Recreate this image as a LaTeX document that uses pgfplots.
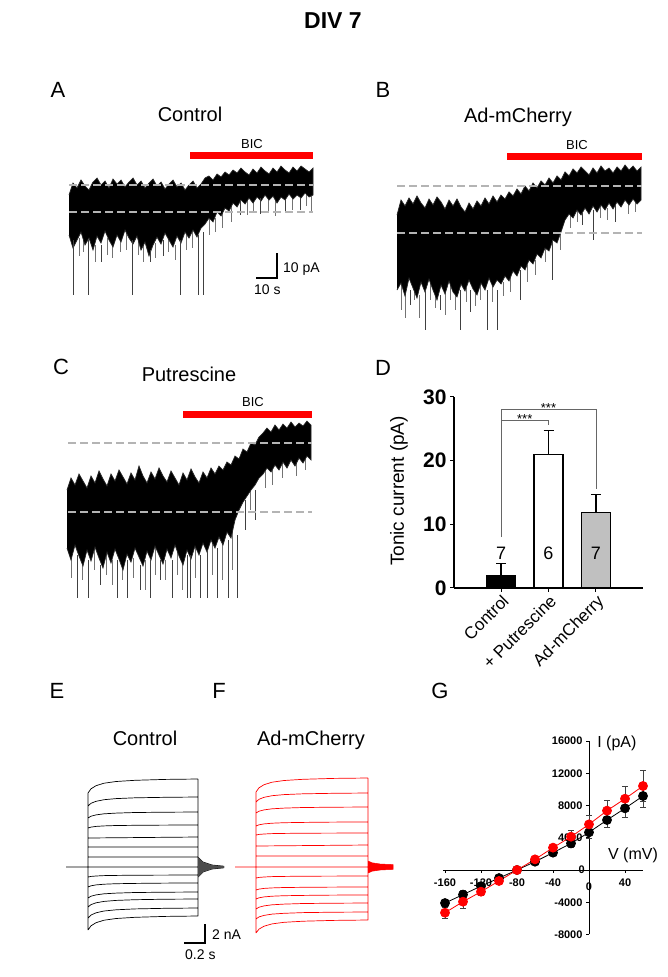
\documentclass[border=0pt]{standalone}
\usepackage{fontspec}
\setmainfont{Liberation Sans}
\usepackage{pgfplots}
\pgfplotsset{compat=1.18}
\definecolor{dashgray}{HTML}{B4B4B4}
\definecolor{bargray}{HTML}{C0C0C0}
\begin{document}
\begin{tikzpicture}
\useasboundingbox (0pt,0pt) rectangle (667pt,977pt);
% ---------------- canvas for traces (pixel coordinates) ----------------
\begin{axis}[at={(0pt,0pt)}, anchor=south west, scale only axis, width=667pt, height=977pt,
  xmin=0, xmax=667, ymin=0, ymax=977, y dir=reverse, hide axis, clip=false, unbounded coords=jump]
% ---- Panel A trace
\addplot[black!55, line width=0.4pt] coordinates {
(79,238)(79,256)(79,nan)(83,240)(83,252)(83,nan)(95,245)(95,262)(95,nan)(107,238)(107,255)(107,nan)
(112,245)(112,258)(112,nan)(120,240)(120,252)(120,nan)(126,232)(126,250)(126,nan)(138,238)(138,255)(138,nan)
(143,245)(143,262)(143,nan)(155,243)(155,258)(155,nan)(168,238)(168,252)(168,nan)(175,245)(175,260)(175,nan)
(186,235)(186,250)(186,nan)(192,232)(192,248)(192,nan)(209,215)(209,235)(209,nan)(215,218)(215,232)(215,nan)
(222,212)(222,228)(222,nan)(231,205)(231,222)(231,nan)(247,200)(247,215)(247,nan)(253,200)(253,213)(253,nan)
(268,198)(268,212)(268,nan)(275,200)(275,216)(275,nan)(292,196)(292,210)(292,nan)(306,194)(306,206)(306,nan)(311,195)(311,212)};
\addplot[fill=black, draw=black!85, line width=0.7pt] coordinates {
(69,195)(73,183)(77,188)(81,180)(85,186)(89,190)(93,182)(97,178)(101,185)(105,181)(109,188)(113,179)(117,184)(121,180)(125,187)(129,182)(133,178)(137,185)(141,181)(145,188)(149,183)(153,179)(157,186)(161,182)(165,189)(169,184)(173,180)(177,187)(181,183)(185,190)(189,185)(193,181)(197,188)(201,184)(205,178)(209,176)(213,180)(217,174)(221,177)(225,172)(229,175)(233,170)(237,173)(241,168)(245,172)(249,175)(253,169)(257,173)(261,167)(265,171)(269,174)(273,168)(277,172)(281,166)(285,170)(289,173)(293,167)(297,171)(301,166)(305,169)(309,172)(313,168)
(313,195)(309,197)(305,193)(301,198)(297,195)(293,199)(289,194)(285,200)(281,197)(277,203)(273,196)(269,200)(265,195)(261,201)(257,197)(253,203)(249,198)(245,204)(241,200)(237,207)(233,203)(229,211)(225,208)(221,216)(217,212)(213,222)(209,218)(205,224)(201,228)(197,237)(193,230)(189,238)(185,232)(181,243)(177,236)(173,247)(169,240)(165,233)(161,244)(157,237)(153,245)(149,256)(145,242)(141,250)(137,236)(133,244)(129,238)(125,230)(121,242)(117,235)(113,247)(109,240)(105,231)(101,243)(97,236)(93,250)(89,238)(85,245)(81,232)(77,240)(73,248)(69,235)};
\addplot[black!75, line width=0.6pt] coordinates {
(73,240)(73,295)(73,nan)(88,240)(88,295)(88,nan)(101,245)(101,262)(101,nan)(132,240)(132,295)(132,nan)
(150,250)(150,262)(150,nan)(163,240)(163,256)(163,nan)(180,240)(180,295)(180,nan)(198,235)(198,295)(198,nan)
(203,232)(203,295)(203,nan)(240,200)(240,215)(240,nan)(260,198)(260,214)(260,nan)(285,200)(285,212)(285,nan)(300,198)(300,210)};
\addplot[dashgray, line width=2.6pt, dash pattern=on 8pt off 4pt] coordinates {(69,185)(313,185)};
\addplot[dashgray, line width=2.6pt, dash pattern=on 8pt off 4pt] coordinates {(69,212)(313,212)};
\addplot[red, line width=7pt] coordinates {(190,155.5)(313,155.5)};
\addplot[black, line width=1.3pt] coordinates {(277,253)(277,278)(256,278)};
% ---- Panel B trace
\addplot[black!55, line width=0.4pt] coordinates {
(401,283)(401,310)(401,nan)(405,292)(405,318)(405,nan)(414,285)(414,300)(414,nan)(419,295)(419,318)(419,nan)
(430,280)(430,300)(430,nan)(435,290)(435,308)(435,nan)(445,290)(445,315)(445,nan)(450,282)(450,300)(450,nan)
(455,292)(455,310)(455,nan)(466,288)(466,302)(466,nan)(475,290)(475,306)(475,nan)(480,283)(480,300)(480,nan)
(492,285)(492,302)(492,nan)(503,282)(503,296)(503,nan)(510,278)(510,292)(510,nan)(527,265)(527,282)(527,nan)
(535,260)(535,275)(535,nan)(545,245)(545,262)(545,nan)(560,232)(560,250)(560,nan)(570,212)(570,228)(570,nan)
(577,210)(577,222)(577,nan)(600,205)(600,218)(600,nan)(607,208)(607,220)(607,nan)(628,202)(628,214)(628,nan)(635,200)(635,212)};
\addplot[fill=black, draw=black!85, line width=0.7pt] coordinates {
(397,215)(401,200)(405,206)(409,198)(413,204)(417,196)(421,203)(425,208)(429,199)(433,205)(437,197)(441,202)(445,209)(449,200)(453,206)(457,199)(461,207)(465,212)(469,203)(473,209)(477,201)(481,206)(485,198)(489,204)(493,196)(497,202)(501,195)(505,199)(509,192)(513,196)(517,189)(521,194)(525,186)(529,191)(533,183)(537,188)(541,181)(545,185)(549,178)(553,183)(557,176)(561,180)(565,172)(569,176)(573,169)(577,173)(581,167)(585,171)(589,175)(593,168)(597,173)(601,166)(605,171)(609,168)(613,173)(617,167)(621,171)(625,165)(629,170)(633,166)(637,171)(641,167)
(641,200)(637,204)(633,199)(629,205)(625,200)(621,207)(617,202)(613,209)(609,203)(605,210)(601,205)(597,212)(593,206)(589,214)(585,208)(581,215)(577,210)(573,218)(569,214)(565,220)(561,232)(557,243)(553,240)(549,251)(545,248)(541,258)(537,254)(533,264)(529,260)(525,270)(521,266)(517,276)(513,271)(509,281)(505,276)(501,284)(497,280)(493,287)(489,278)(485,290)(481,283)(477,295)(473,289)(469,280)(465,291)(461,284)(457,297)(453,292)(449,281)(445,294)(441,285)(437,300)(433,290)(429,279)(425,292)(421,282)(417,298)(413,288)(409,278)(405,296)(401,283)(397,290)};
\addplot[black!75, line width=0.6pt] coordinates {
(425,290)(425,330)(425,nan)(460,290)(460,330)(460,nan)(487,290)(487,330)(487,nan)(497,290)(497,330)(497,nan)
(410,290)(410,305)(410,nan)(440,295)(440,310)(440,nan)(470,290)(470,312)(470,nan)(520,270)(520,300)(520,nan)
(552,240)(552,280)(552,nan)(593,210)(593,240)(593,nan)(615,205)(615,222)(615,nan)(582,212)(582,225)};
\addplot[dashgray, line width=2.6pt, dash pattern=on 8pt off 4pt] coordinates {(397,186)(642,186)};
\addplot[dashgray, line width=2.6pt, dash pattern=on 8pt off 4pt] coordinates {(397,233)(642,233)};
\addplot[red, line width=7pt] coordinates {(507,156)(642,156)};
% ---- Panel C trace
\addplot[black!55, line width=0.4pt] coordinates {
(71,555)(71,578)(71,nan)(82,560)(82,580)(82,nan)(94,545)(94,570)(94,nan)(106,552)(106,575)(106,nan)
(112,560)(112,585)(112,nan)(122,565)(122,580)(122,nan)(133,558)(133,578)(133,nan)(145,560)(145,590)(145,nan)
(155,545)(155,575)(155,nan)(165,560)(165,580)(165,nan)(177,550)(177,575)(177,nan)(182,560)(182,590)(182,nan)
(195,545)(195,578)(195,nan)(212,540)(212,575)(212,nan)(222,542)(222,580)(222,nan)(232,530)(232,570)(232,nan)
(250,490)(250,510)(250,nan)(265,470)(265,488)(265,nan)(272,470)(272,485)(272,nan)(282,462)(282,478)(282,nan)
(296,462)(296,476)(296,nan)(305,458)(305,470)};
\addplot[fill=black, draw=black!85, line width=0.7pt] coordinates {
(67,490)(71,478)(75,485)(79,474)(83,481)(87,488)(91,476)(95,483)(99,471)(103,479)(107,486)(111,474)(115,481)(119,470)(123,477)(127,484)(131,473)(135,480)(139,466)(143,476)(147,483)(151,472)(155,479)(159,468)(163,476)(167,482)(171,471)(175,478)(179,485)(183,473)(187,480)(191,469)(195,477)(199,483)(203,472)(207,478)(211,468)(215,474)(219,466)(223,470)(227,462)(231,465)(235,456)(239,459)(243,449)(247,452)(251,443)(255,445)(259,437)(263,433)(267,428)(271,432)(275,425)(279,430)(283,424)(287,428)(291,422)(295,427)(299,423)(303,426)(307,421)(311,425)
(311,460)(307,456)(303,463)(299,458)(295,466)(291,460)(287,468)(283,462)(279,470)(275,465)(271,472)(267,468)(263,474)(259,478)(255,485)(251,490)(247,496)(243,502)(239,510)(235,520)(231,538)(227,532)(223,545)(219,537)(215,548)(211,540)(207,552)(203,543)(199,555)(195,546)(191,559)(187,550)(183,565)(179,556)(175,545)(171,558)(167,549)(163,564)(159,555)(155,546)(151,560)(147,551)(143,566)(139,557)(135,548)(131,562)(127,554)(123,570)(119,559)(115,549)(111,563)(107,552)(103,568)(99,558)(95,547)(91,561)(87,550)(83,566)(79,556)(75,545)(71,560)(67,548)};
\addplot[black!75, line width=0.6pt] coordinates {
(77,555)(77,598)(77,nan)(88,560)(88,598)(88,nan)(117,560)(117,598)(117,nan)(127,560)(127,598)(127,nan)
(150,560)(150,598)(150,nan)(172,560)(172,598)(172,nan)(187,555)(187,598)(187,nan)(190,555)(190,598)(190,nan)
(200,555)(200,598)(200,nan)(207,550)(207,598)(207,nan)(217,548)(217,598)(217,nan)(228,540)(228,598)(228,nan)
(237,535)(237,598)(237,nan)(100,565)(100,585)(100,nan)(140,565)(140,590)(140,nan)(160,560)(160,580)(160,nan)
(245,500)(245,530)(245,nan)(255,490)(255,520)};
\addplot[dashgray, line width=2.6pt, dash pattern=on 8pt off 4pt] coordinates {(68,443)(312,443)};
\addplot[dashgray, line width=2.6pt, dash pattern=on 8pt off 4pt] coordinates {(68,512)(312,512)};
\addplot[red, line width=7pt] coordinates {(183,414)(312,414)};
% ---- Panel E traces (black)
\addplot[black, line width=0.7pt] coordinates {
(88,793)(91,788.8)(96,785.7)(104,783.2)(116,781.5)(135,780.3)(165,779.4)(198,779)(198,nan)
(88,806)(91,803.3)(96,801.3)(104,799.7)(116,798.6)(135,797.8)(165,797.3)(198,797)(198,nan)
(88,818)(91,816.2)(96,814.9)(104,813.8)(116,813.1)(135,812.5)(165,812.2)(198,812)(198,nan)
(88,828)(91,827.1)(96,826.4)(104,825.9)(116,825.5)(135,825.3)(165,825.1)(198,825)(198,nan)
(88,838)(198,837)(198,nan)(88,847)(198,847)(198,nan)(88,857)(198,857)(198,nan)(66,867)(224,867)(224,nan)
(88,877)(91,876.4)(96,876)(104,875.6)(116,875.4)(135,875.2)(165,875.1)(198,875)(198,nan)
(88,887)(91,885.8)(96,884.9)(104,884.2)(116,883.7)(135,883.4)(165,883.1)(198,883)(198,nan)
(88,898)(91,896.2)(96,894.9)(104,893.8)(116,893.1)(135,892.5)(165,892.2)(198,892)(198,nan)
(88,907)(91,904.6)(96,902.8)(104,901.4)(116,900.4)(135,899.7)(165,899.2)(198,899)(198,nan)
(88,918)(91,915)(96,912.8)(104,911)(116,909.8)(135,908.9)(165,908.3)(198,908)(198,nan)
(88,930)(91,925.8)(96,922.7)(104,920.2)(116,918.5)(135,917.3)(165,916.4)(198,916)(198,nan)
(88,793)(88,930)(88,nan)(198,779)(198,916)(198,nan)
(198,857)(203,862)(212,865)(224,866.2)(224,nan)(198,860)(203,863.5)(212,865.6)(224,866.4)(224,nan)
(198,863)(203,865)(212,866.2)(224,866.7)(224,nan)(198,871)(203,869)(212,867.8)(224,867.3)(224,nan)
(198,874)(203,870.5)(212,868.4)(224,867.6)(224,nan)(198,877)(203,872)(212,869)(224,867.8)};
\addplot[fill=black!70, draw=none] coordinates {(198,857)(203,862)(212,865)(224,866.2)(224,867.8)(212,869)(203,872)(198,877)};
\addplot[black, line width=1.3pt] coordinates {(205,924)(205,943)(184,943)};
% ---- Panel F traces (red)
\addplot[red, line width=0.7pt] coordinates {
(256,792)(259,787.8)(264,784.7)(272,782.2)(284,780.5)(303,779.3)(333,778.4)(368,778)(368,nan)
(256,802)(259,799.3)(264,797.3)(272,795.7)(284,794.6)(303,793.8)(333,793.3)(368,793)(368,nan)
(256,813)(259,811.2)(264,809.9)(272,808.8)(284,808.1)(303,807.5)(333,807.2)(368,807)(368,nan)
(256,826)(259,824.8)(264,823.9)(272,823.2)(284,822.7)(303,822.4)(333,822.1)(368,822)(368,nan)
(256,835)(259,834.4)(264,834)(272,833.6)(284,833.4)(303,833.2)(333,833.1)(368,833)(368,nan)
(256,846)(368,845)(368,nan)(256,856)(368,856)(368,nan)(235,867)(393,867)(393,nan)
(256,878)(259,877.4)(264,877)(272,876.6)(284,876.4)(303,876.2)(333,876.1)(368,876)(368,nan)
(256,890)(259,889.1)(264,888.4)(272,887.9)(284,887.5)(303,887.3)(333,887.1)(368,887)(368,nan)
(256,899)(259,897.8)(264,896.9)(272,896.2)(284,895.7)(303,895.4)(333,895.1)(368,895)(368,nan)
(256,909)(259,907.2)(264,905.9)(272,904.8)(284,904.1)(303,903.5)(333,903.2)(368,903)(368,nan)
(256,919)(259,916.9)(264,915.4)(272,914.1)(284,913.3)(303,912.6)(333,912.2)(368,912)(368,nan)
(256,933)(259,929.1)(264,926.2)(272,923.9)(284,922.3)(303,921.2)(333,920.4)(368,920)(368,nan)
(256,792)(256,933)(256,nan)(368,778)(368,920)};
\addplot[fill=red, draw=red, line width=0.5pt] coordinates {(368,861)(372,862.8)(380,864)(393,864.6)(393,869.4)(380,870)(372,871.2)(368,873)};
% ---- text
\node[font=\bfseries\fontsize{23}{26}\selectfont] at (axis cs:333,20.5) {DIV 7};
\node[font=\fontsize{22}{26}\selectfont, anchor=base] at (axis cs:58,97) {A};
\node[font=\fontsize{22}{26}\selectfont, anchor=base] at (axis cs:383,97) {B};
\node[font=\fontsize{22}{26}\selectfont, anchor=base] at (axis cs:61,374) {C};
\node[font=\fontsize{22}{26}\selectfont, anchor=base] at (axis cs:383,375) {D};
\node[font=\fontsize{22}{26}\selectfont, anchor=base] at (axis cs:57,698) {E};
\node[font=\fontsize{22}{26}\selectfont, anchor=base] at (axis cs:219,698) {F};
\node[font=\fontsize{22}{26}\selectfont, anchor=base] at (axis cs:440,698) {G};
\node[font=\fontsize{20}{24}\selectfont, anchor=base] at (axis cs:190,121) {Control};
\node[font=\fontsize{20}{24}\selectfont, anchor=base] at (axis cs:518,122) {Ad-mCherry};
\node[font=\fontsize{20}{24}\selectfont, anchor=base] at (axis cs:189,381) {Putrescine};
\node[font=\fontsize{20}{24}\selectfont, anchor=base] at (axis cs:145,745) {Control};
\node[font=\fontsize{20}{24}\selectfont, anchor=base] at (axis cs:311,745) {Ad-mCherry};
\node[font=\fontsize{13}{15}\selectfont, anchor=base] at (axis cs:252,148) {BIC};
\node[font=\fontsize{13}{15}\selectfont, anchor=base] at (axis cs:577,149) {BIC};
\node[font=\fontsize{13}{15}\selectfont, anchor=base] at (axis cs:253,406) {BIC};
\node[font=\fontsize{14}{16}\selectfont, anchor=base west, inner sep=0pt] at (axis cs:283,272) {10 pA};
\node[font=\fontsize{14}{16}\selectfont, anchor=base west, inner sep=0pt] at (axis cs:254,294) {10 s};
\node[font=\fontsize{14}{16}\selectfont, anchor=base west, inner sep=0pt] at (axis cs:212,939) {2 nA};
\node[font=\fontsize{14}{16}\selectfont, anchor=base west, inner sep=0pt] at (axis cs:185,959) {0.2 s};
\node[font=\fontsize{19}{22}\selectfont, rotate=90] at (axis cs:399,491) {Tonic current (pA)};
\end{axis}
% ---------------- Panel D bar chart ----------------
\begin{axis}[at={(454pt,389pt)}, anchor=south west, scale only axis, width=189pt, height=191pt,
  xmin=-0.99, xmax=2.99, ymin=0, ymax=30, axis x line=bottom, axis y line=left,
  axis line style={line width=1.4pt, -}, xtick={0,1,2}, xticklabels={Control,+ Putrescine,Ad-mCherry},
  ytick={0,10,20,30}, tick align=outside, major tick length=4pt, tick style={line width=1pt, black},
  xticklabel style={rotate=45, anchor=north east, font=\fontsize{17}{19}\selectfont, inner sep=1pt},
  yticklabel style={font=\bfseries\fontsize{21}{23}\selectfont},
  /pgf/number format/assume math mode=true, clip=false]
\addplot[black!60, line width=0.8pt] coordinates {(0,8)(0,28.1)(2,28.1)(2,15.5)};
\addplot[black!60, line width=0.8pt] coordinates {(0,26.4)(1,26.4)(1,25.6)};
\addplot[ybar, bar width=29pt, bar shift=0pt, fill=black, draw=black, line width=1.2pt,
  error bars/.cd, y dir=plus, y explicit, error bar style={line width=1.2pt},
  error mark options={rotate=90, mark size=5pt, line width=1.2pt}] coordinates {(0,2.0) +- (0,1.8)};
\addplot[ybar, bar width=29pt, bar shift=0pt, fill=white, draw=black, line width=1.2pt,
  error bars/.cd, y dir=plus, y explicit, error bar style={line width=1.2pt},
  error mark options={rotate=90, mark size=5pt, line width=1.2pt}] coordinates {(1,21.0) +- (0,3.7)};
\addplot[ybar, bar width=29pt, bar shift=0pt, fill=bargray, draw=black, line width=1.2pt,
  error bars/.cd, y dir=plus, y explicit, error bar style={line width=1.2pt},
  error mark options={rotate=90, mark size=5pt, line width=1.2pt}] coordinates {(2,11.8) +- (0,2.9)};
\node[font=\fontsize{18}{20}\selectfont] at (axis cs:0,5.5) {7};
\node[font=\fontsize{18}{20}\selectfont] at (axis cs:1,5.5) {6};
\node[font=\fontsize{18}{20}\selectfont] at (axis cs:2,5.5) {7};
\node[font=\fontsize{13}{15}\selectfont, anchor=base] at (axis cs:1,27.55) {***};
\node[font=\fontsize{13}{15}\selectfont, anchor=base] at (axis cs:0.5,25.8) {***};
\end{axis}
% ---------------- Panel G I-V ----------------
\begin{axis}[at={(443.2pt,42.5pt)}, anchor=south west, scale only axis, width=199.8pt, height=193.5pt,
  xmin=-162, xmax=60, ymin=-8000, ymax=16000, axis lines=middle, axis line style={-, line width=0.9pt},
  xtick={-160,-120,-80,-40,0,40}, ytick={-8000,-4000,0,4000,8000,12000,16000},
  scaled y ticks=false, scaled x ticks=false,
  tick align=outside, major tick length=3pt, tick style={black, line width=0.7pt},
  ticklabel style={font=\bfseries\fontsize{11}{13}\selectfont},
  xticklabel style={yshift=-2pt},
  /pgf/number format/1000 sep={}, /pgf/number format/assume math mode=true, clip=false]
\addplot[black, line width=0.8pt, mark=*, mark size=4.5pt, mark options={fill=black},
  error bars/.cd, y dir=both, y explicit, error bar style={black!75, line width=0.6pt},
  error mark options={rotate=90, mark size=3pt, black!75, line width=0.6pt}] coordinates {
(-160,-4100) +- (0,500) (-140,-3050) +- (0,500) (-120,-2000) +- (0,400) (-100,-1000) +- (0,300)
(-80,0) +- (0,150) (-60,1030) +- (0,250) (-40,2150) +- (0,350) (-20,3300) +- (0,530)
(0,4670) +- (0,700) (20,6200) +- (0,950) (40,7650) +- (0,1150) (60,9180) +- (0,1400)};
\addplot[red, line width=0.8pt, mark=*, mark size=4.5pt, mark options={fill=red},
  error bars/.cd, y dir=both, y explicit, error bar style={black!75, line width=0.6pt},
  error mark options={rotate=90, mark size=3pt, black!75, line width=0.6pt}] coordinates {
(-160,-5300) +- (0,700) (-140,-3930) +- (0,800) (-120,-2690) +- (0,500) (-100,-1360) +- (0,350)
(-80,0) +- (0,150) (-60,1320) +- (0,300) (-40,2770) +- (0,400) (-20,4130) +- (0,800)
(0,5660) +- (0,1070) (20,7360) +- (0,1240) (40,8840) +- (0,1600) (60,10420) +- (0,1900)};
\node[font=\bfseries\fontsize{11}{13}\selectfont, anchor=east, inner sep=0pt] at (axis cs:-4.5,0) {0};
\node[font=\bfseries\fontsize{11}{13}\selectfont, inner sep=0pt] at (axis cs:0,-2100) {0};
\node[font=\fontsize{16}{18}\selectfont, anchor=west, inner sep=0pt] at (axis cs:9,15750) {I (pA)};
\node[font=\fontsize{16}{18}\selectfont, anchor=west, inner sep=0pt] at (axis cs:21,1860) {V (mV)};
\end{axis}
\end{tikzpicture}
\end{document}
